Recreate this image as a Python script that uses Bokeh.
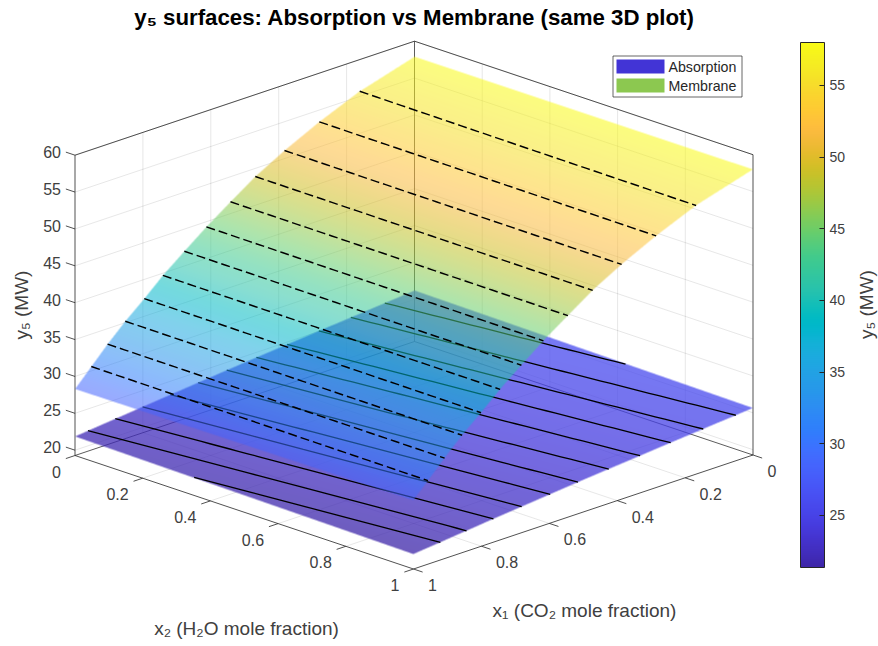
import numpy as np
from bokeh.plotting import figure
from bokeh.models import ColorBar, LinearColorMapper, FixedTicker, Range1d
from bokeh.core.properties import value
from bokeh.embed import file_html
from bokeh.resources import INLINE

# ---- data ----
x1_membrane = [0, .165, .283, .383, .469, .542, .613, .678, .74, .796, .852, .902, .952, 1]
z_membrane_x2_0 = [57.9, 55.65, 53.35, 51.1, 48.9, 46.6, 44.3, 42.0, 39.75, 37.4, 35.2, 33.0, 30.6, 28.3]
z_membrane_x2_1 = [58.0, 55.75, 53.45, 51.2, 49.0, 46.7, 44.45, 42.15, 39.9, 37.6, 35.4, 33.2, 30.85, 28.6]
x1_absorption = [0, .25, .5, .75, 1]
z_absorption_x2_0 = [26.2, 25.2, 24.18, 23.05, 21.87]
z_absorption_x2_1 = [25.65, 24.66, 23.63, 22.5, 21.3]
levels_membrane = [30.6, 32.9, 35.2, 37.4, 39.7, 42.0, 44.3, 46.6, 48.9, 51.1, 53.4, 55.7]
levels_absorption = [21.68, 22.05, 22.43, 22.81, 23.19, 23.56, 23.94, 24.32, 24.69, 25.07, 25.45, 25.85]
x_ticks = [0, .2, .4, .6, .8, 1]
x_tick_labels = ["0", "0.2", "0.4", "0.6", "0.8", "1"]
z_ticks = [20, 25, 30, 35, 40, 45, 50, 55, 60]
cbar_ticks = [25, 30, 35, 40, 45, 50, 55]
series_names = ["Absorption", "Membrane"]
legend_colors = ["#4234d6", "#8cc850"]
z_low, z_high = 19.28, 60.0
c_low, c_high = 21.36, 58.0

PARULA = np.array([
 [.2422,.1504,.6603],[.2504,.1650,.7076],[.2578,.1818,.7511],[.2647,.1978,.7952],[.2706,.2147,.8364],[.2751,.2342,.8710],
 [.2783,.2559,.8991],[.2803,.2782,.9221],[.2813,.3006,.9414],[.2810,.3228,.9579],[.2795,.3447,.9717],[.2760,.3667,.9829],
 [.2699,.3892,.9906],[.2602,.4123,.9952],[.2440,.4358,.9988],[.2206,.4603,.9973],[.1963,.4847,.9892],[.1834,.5074,.9798],
 [.1786,.5289,.9682],[.1764,.5499,.9520],[.1687,.5703,.9359],[.1540,.5902,.9218],[.1460,.6091,.9079],[.1380,.6276,.8973],
 [.1248,.6459,.8883],[.1113,.6635,.8763],[.0952,.6798,.8598],[.0689,.6948,.8394],[.0297,.7082,.8163],[.0036,.7203,.7917],
 [.0067,.7312,.7660],[.0433,.7411,.7394],[.0964,.7500,.7120],[.1408,.7584,.6842],[.1717,.7670,.6554],[.1938,.7758,.6251],
 [.2161,.7843,.5923],[.2470,.7918,.5567],[.2906,.7973,.5188],[.3406,.8008,.4789],[.3909,.8029,.4354],[.4456,.8024,.3909],
 [.5044,.7993,.3480],[.5616,.7942,.3045],[.6174,.7876,.2612],[.6720,.7793,.2227],[.7242,.7698,.1910],[.7738,.7598,.1646],
 [.8203,.7498,.1535],[.8634,.7406,.1596],[.9035,.7330,.1774],[.9393,.7288,.2100],[.9728,.7298,.2394],[.9956,.7434,.2371],
 [.9970,.7659,.2199],[.9952,.7893,.2028],[.9892,.8136,.1885],[.9786,.8386,.1778],[.9676,.8639,.1689],[.9610,.8890,.1537],
 [.9597,.9135,.1423],[.9628,.9373,.1265],[.9691,.9606,.1064],[.9769,.9839,.0805]])
PT = np.linspace(0, 1, len(PARULA))

W, H = 878, 646
PAGE_H = 646
FONT = value("Liberation Sans")
DARK = "#262626"

# orthographic projection of the 3-D axes onto the page
OX, OY = 414.0, 341.0
AX, AY = -339.5, 114.0   # x1 direction
BX, BY = 338.5, 113.5    # x2 direction
ZS = 7.375


def sx_of(x1, x2):
    return OX + AX * np.asarray(x1, float) + BX * np.asarray(x2, float)


def sy_of(x1, x2, z):
    return OY + AY * np.asarray(x1, float) + BY * np.asarray(x2, float) - ZS * (np.asarray(z, float) - z_low)


def up(sy):
    return PAGE_H - np.asarray(sy, float)


def pr(x1, x2, z):
    return sx_of(x1, x2), up(sy_of(x1, x2, z))


def surf_z(x1, x2, nodes, z0, z1):
    a = np.interp(x1, nodes, z0)
    b = np.interp(x1, nodes, z1)
    return a + (b - a) * np.asarray(x2, float)


def colors_of(z):
    t = np.clip((z - c_low) / (c_high - c_low), 0, 1)
    return np.stack([np.interp(t, PT, PARULA[:, k]) for k in range(3)], axis=-1)


L, R, T, B = 74, 755, 40, 572  # raster window on the page


def raster(nodes, z0, z1, alpha, s=3):
    nw, nh = (R - L) * s, (B - T) * s
    cols = L + (np.arange(nw) + .5) / s
    rows = T + (np.arange(nh) + .5) / s
    fine = np.linspace(0, 1, 1600)
    x1g = np.full((nh, nw), np.nan)
    x2g = np.full((nh, nw), np.nan)
    for i, sx in enumerate(cols):
        x2 = (sx - OX - AX * fine) / BX
        m = (x2 >= 0) & (x2 <= 1)
        if m.sum() < 2:
            continue
        sy = sy_of(fine[m], x2[m], surf_z(fine[m], x2[m], nodes, z0, z1))
        v = np.interp(rows, sy, fine[m], left=np.nan, right=np.nan)
        x1g[:, i] = v
        x2g[:, i] = (sx - OX - AX * v) / BX
    cov = ~np.isnan(x1g)
    rgb = np.ones((nh, nw, 3))
    rgb[cov] = colors_of(surf_z(x1g[cov], x2g[cov], nodes, z0, z1))
    a = cov * alpha
    pm = (rgb * a[..., None]).reshape(B - T, s, R - L, s, 3).mean(axis=(1, 3))
    am = a.reshape(B - T, s, R - L, s).mean(axis=(1, 3))
    c = np.where(am[..., None] > 0, pm / np.maximum(am[..., None], 1e-6), 1.0)
    img = np.zeros((B - T, R - L, 4), dtype=np.uint8)
    img[..., :3] = np.round(c * 255)
    img[..., 3] = np.round(am * 255)
    return np.flipud(img).copy().view(dtype=np.uint32).reshape(B - T, R - L)


def contours(levels, nodes, z0, z1):
    xs, ys = [], []
    x2s = np.linspace(0, 1, 41)
    for lev in levels:
        px1, px2 = [], []
        for x2 in x2s:
            zc = surf_z(np.array(nodes), x2, nodes, z0, z1)
            if zc.min() <= lev <= zc.max():
                px1.append(np.interp(lev, zc[::-1], np.array(nodes)[::-1]))
                px2.append(x2)
        if len(px1) > 1:
            sx, sy = pr(px1, px2, lev)
            xs.append(list(sx))
            ys.append(list(sy))
    return xs, ys


p = figure(width=W, height=H, x_range=Range1d(0, W), y_range=Range1d(0, H),
           output_backend="svg", toolbar_location=None, min_border=0, outline_line_color=None)
p.axis.visible = False
p.grid.visible = False

# ---- grid on the back walls and the floor ----
gx, gy = [], []
for t in x_ticks[1:-1]:
    for a, b in [((t, 0, z_low), (t, 1, z_low)), ((0, t, z_low), (1, t, z_low)),
                 ((t, 0, z_low), (t, 0, z_high)), ((0, t, z_low), (0, t, z_high))]:
        s0, s1 = pr(*a), pr(*b)
        gx.append([s0[0], s1[0]])
        gy.append([s0[1], s1[1]])
for z in z_ticks:
    for a, b in [((1, 0, z), (0, 0, z)), ((0, 0, z), (0, 1, z))]:
        s0, s1 = pr(*a), pr(*b)
        gx.append([s0[0], s1[0]])
        gy.append([s0[1], s1[1]])
p.multi_line([list(map(float, v)) for v in gx], [list(map(float, v)) for v in gy], line_color=DARK, line_alpha=.11, line_width=1)

# ---- box edges behind the surfaces ----
back = [((1, 0, z_low), (0, 0, z_low), (0, 1, z_low)), ((0, 0, z_low), (0, 0, z_high))]
for e in back:
    xy = [pr(*c) for c in e]
    p.line([float(c[0]) for c in xy], [float(c[1]) for c in xy], line_color=DARK, line_alpha=.75, line_width=1)

# ---- surfaces ----
p.image_rgba(image=[raster(x1_absorption, z_absorption_x2_0, z_absorption_x2_1, .75)],
             x=L, y=PAGE_H - B, dw=R - L, dh=B - T)
ax_, ay_ = contours(levels_absorption, x1_absorption, z_absorption_x2_0, z_absorption_x2_1)
p.multi_line(ax_, ay_, line_color="black", line_width=1.3)

p.image_rgba(image=[raster(x1_membrane, z_membrane_x2_0, z_membrane_x2_1, .55)],
             x=L, y=PAGE_H - B, dw=R - L, dh=B - T)
mx_, my_ = contours(levels_membrane, x1_membrane, z_membrane_x2_0, z_membrane_x2_1)
p.multi_line(mx_, my_, line_color="black", line_width=1.45, line_dash="9 4")

# ---- box edges in front ----
front = [((1, 0, z_low), (1, 1, z_low), (0, 1, z_low)),
         ((1, 0, z_low), (1, 0, z_high), (0, 0, z_high), (0, 1, z_high), (0, 1, z_low))]
for e in front:
    xy = [pr(*c) for c in e]
    p.line([float(c[0]) for c in xy], [float(c[1]) for c in xy], line_color=DARK, line_alpha=.8, line_width=1)

# ---- ticks and tick labels ----
TICK = .027
tx, ty = [], []
for t in x_ticks:
    s0, s1 = pr(1, t, z_low), pr(1 + TICK, t, z_low)   # x2 axis
    tx.append([float(s0[0]), float(s1[0])]); ty.append([float(s0[1]), float(s1[1])])
    s0, s1 = pr(t, 1, z_low), pr(t, 1 + TICK, z_low)   # x1 axis
    tx.append([float(s0[0]), float(s1[0])]); ty.append([float(s0[1]), float(s1[1])])
for z in z_ticks:
    s0, s1 = pr(1, 0, z), pr(1, -TICK, z)
    tx.append([float(s0[0]), float(s1[0])]); ty.append([float(s0[1]), float(s1[1])])
p.multi_line(tx, ty, line_color=DARK, line_alpha=.8, line_width=1)

lbl = dict(text_font=FONT, text_font_size="16px", text_color="#404040", text_baseline="middle")
p.text(x=[float(sx_of(1, t)) - 14 for t in x_ticks], y=[float(up(sy_of(1, t, z_low))) - 16 for t in x_ticks],
       text=x_tick_labels, text_align="right", **lbl)
p.text(x=[float(sx_of(t, 1)) + 14.5 for t in x_ticks], y=[float(up(sy_of(t, 1, z_low))) - 16 for t in x_ticks],
       text=x_tick_labels, text_align="left", **lbl)
zs = [float(v) for v in up(sy_of(1, -TICK, np.array(z_ticks)))]
p.text(x=[60.5] * len(z_ticks), y=zs, text=[str(z) for z in z_ticks], text_align="right", **lbl)

# ---- axis labels and title ----
al = dict(text_font=FONT, text_font_size="19px", text_color="#404040", text_baseline="middle", text_align="center")
p.text(x=[246], y=[PAGE_H - 628], text=["x₂ (H₂O mole fraction)"], **al)
p.text(x=[584], y=[PAGE_H - 610], text=["x₁ (CO₂ mole fraction)"], **al)
p.text(x=[21], y=[PAGE_H - 304.5], text=["y₅ (MW)"], angle=np.pi / 2, **al)
p.text(x=[866], y=[PAGE_H - 304], text=["y₅ (MW)"], angle=np.pi / 2, **al)
p.text(x=[414], y=[PAGE_H - 16.5], text=["y₅ surfaces: Absorption vs Membrane (same 3D plot)"], text_font=FONT,
       text_font_size="22.25px", text_font_style="bold", text_color="black", text_baseline="middle", text_align="center")

# ---- colour bar ----
palette = ["#%02x%02x%02x" % tuple(int(round(255 * np.interp(t, PT, PARULA[:, k]))) for k in range(3))
           for t in np.linspace(0, 1, 256)]
mapper = LinearColorMapper(palette=palette, low=c_low, high=c_high)
cb = ColorBar(color_mapper=mapper, ticker=FixedTicker(ticks=cbar_ticks), location=(800, 79), width=24, height=525,
              padding=0, margin=0, major_tick_in=5, major_tick_out=0, minor_tick_in=0, minor_tick_out=0,
              major_tick_line_color=DARK, bar_line_color=DARK, bar_line_width=1, label_standoff=5,
              major_label_text_font="Liberation Sans", major_label_text_font_size="14px", major_label_text_color="#404040",
              background_fill_alpha=0, border_line_color=None)
p.add_layout(cb, "center")

# ---- legend, drawn in page position to match the reference's inset box ----
p.quad(left=[612.5], right=[741.5], top=[PAGE_H - 55.5], bottom=[PAGE_H - 96.5], fill_color="white",
       line_color=DARK, line_alpha=.7, line_width=1)
leg_y = [66, 85]
p.quad(left=[616] * 2, right=[664] * 2, top=[PAGE_H - y + 7 for y in leg_y], bottom=[PAGE_H - y - 7 for y in leg_y],
       fill_color=legend_colors, line_color=None)
p.text(x=[668] * 2, y=[PAGE_H - y for y in leg_y], text=series_names, text_font=FONT, text_font_size="14.2px",
       text_color=DARK, text_baseline="middle", text_align="left")

open("out.html", "w").write(file_html(p, INLINE))
